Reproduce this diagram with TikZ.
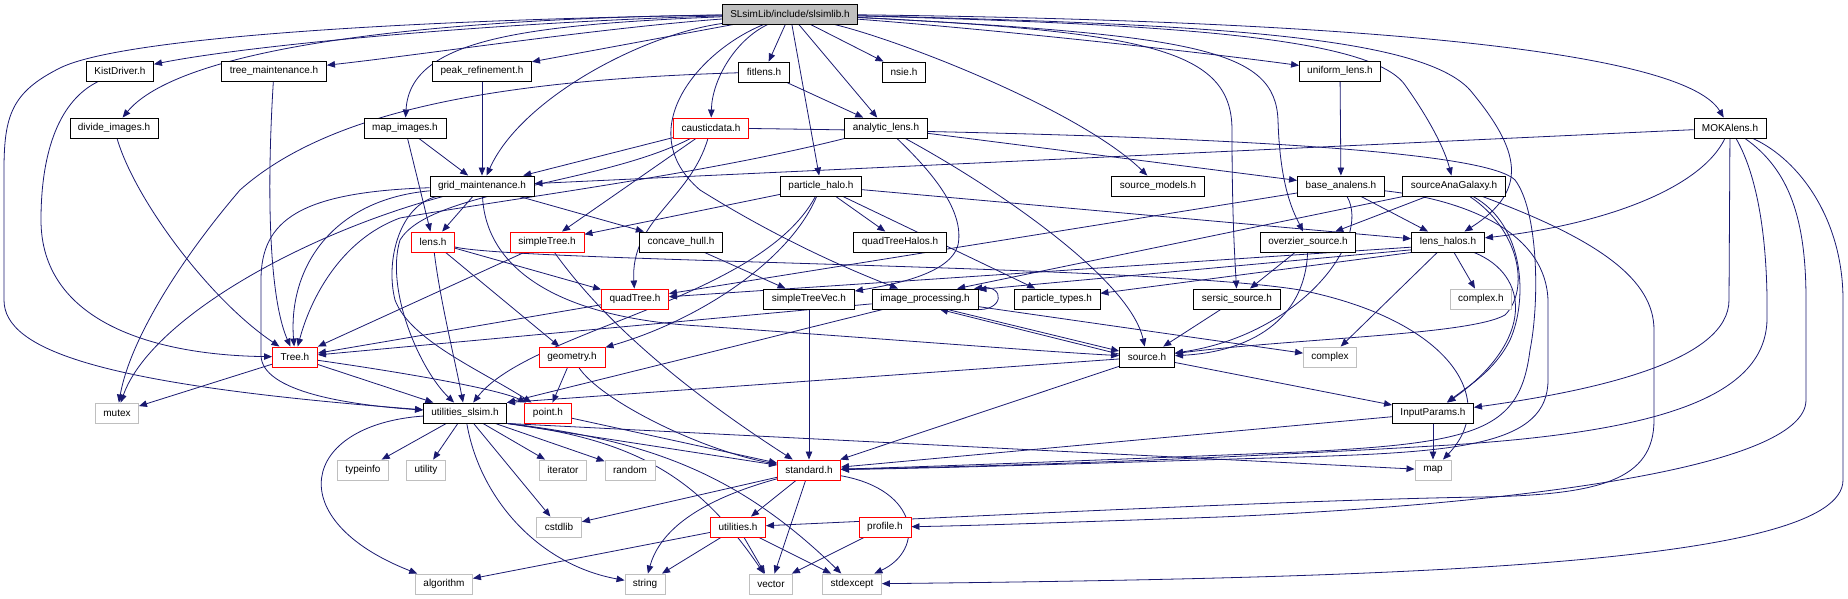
\documentclass[tikz,border=0pt]{standalone}
\usepackage{fontspec}
\setmainfont{Liberation Sans}
\usetikzlibrary{arrows.meta}
\definecolor{dblue}{HTML}{191970}
\definecolor{lgray}{HTML}{BFBFBF}
\pgfdeclarelayer{bg}
\pgfsetlayers{bg,main}
\tikzset{
 nd/.style={draw=black, line width=0.9pt, minimum height=20pt, inner sep=0pt, fill=white, font=\fontsize{10}{12}\selectfont},
 rd/.style={nd, draw=red},
 gy/.style={nd, draw=lgray},
 e/.style={draw=dblue, line width=0.8pt, -{Triangle[length=8pt,width=6.5pt]}},
}
\begin{document}
\begin{tikzpicture}[x=1pt,y=-1pt]
\useasboundingbox (0,0) rectangle (1848,599);
% nodes
\node[nd, minimum width=135pt, fill=lgray] (root) at (790,14) {SLsimLib/include/slsimlib.h};
\node[nd, minimum width=67pt] (kist) at (120,71) {KistDriver.h};
\node[nd, minimum width=105pt] (treem) at (274,71) {tree\_maintenance.h};
\node[nd, minimum width=99pt] (peak) at (482,71) {peak\_refinement.h};
\node[nd, minimum width=51pt] (fitlens) at (764,72) {fitlens.h};
\node[nd, minimum width=43pt] (nsie) at (904,72) {nsie.h};
\node[nd, minimum width=81pt] (uniform) at (1340,71) {uniform\_lens.h};
\node[nd, minimum width=88pt] (divide) at (114,128) {divide\_images.h};
\node[nd, minimum width=82pt] (mapimg) at (405,128) {map\_images.h};
\node[rd, minimum width=75pt] (caustic) at (711,128) {causticdata.h};
\node[nd, minimum width=83pt] (analytic) at (886,128) {analytic\_lens.h};
\node[nd, minimum width=72pt] (moka) at (1730,128) {MOKAlens.h};
\node[nd, minimum width=104pt] (grid) at (482,186) {grid\_maintenance.h};
\node[nd, minimum width=81pt] (phalo) at (821,186) {particle\_halo.h};
\node[nd, minimum width=93pt] (srcmod) at (1158,186) {source\_models.h};
\node[nd, minimum width=87pt] (baseana) at (1341,186) {base\_analens.h};
\node[nd, minimum width=103pt] (sag) at (1454,186) {sourceAnaGalaxy.h};
\node[rd, minimum width=43pt] (lens) at (433,242) {lens.h};
\node[rd, minimum width=74pt] (stree) at (547,242) {simpleTree.h};
\node[nd, minimum width=83pt] (concave) at (681,242) {concave\_hull.h};
\node[nd, minimum width=93pt] (qth) at (900,242) {quadTreeHalos.h};
\node[nd, minimum width=95pt] (overzier) at (1308,242) {overzier\_source.h};
\node[nd, minimum width=73pt] (lhalos) at (1448,242) {lens\_halos.h};
\node[rd, minimum width=67pt] (qtree) at (635,299) {quadTree.h};
\node[nd, minimum width=91pt] (stvec) at (809,299) {simpleTreeVec.h};
\node[nd, minimum width=106pt] (imgp) at (925,299) {image\_processing.h};
\node[nd, minimum width=86pt] (ptypes) at (1057,299) {particle\_types.h};
\node[nd, minimum width=87pt] (sersic) at (1237,299) {sersic\_source.h};
\node[gy, minimum width=61pt] (complexh) at (1481,299) {complex.h};
\node[rd, minimum width=45pt] (tree) at (295,357) {Tree.h};
\node[rd, minimum width=66pt] (geom) at (572,357) {geometry.h};
\node[nd, minimum width=55pt] (source) at (1147,357) {source.h};
\node[gy, minimum width=53pt] (complex) at (1330,357) {complex};
\node[gy, minimum width=43pt] (mutex) at (117,413) {mutex};
\node[nd, minimum width=83pt] (uslsim) at (465,413) {utilities\_slsim.h};
\node[rd, minimum width=47pt] (point) at (548,413) {point.h};
\node[nd, minimum width=81pt] (inparams) at (1433,413) {InputParams.h};
\node[gy, minimum width=51pt] (typeinfo) at (363,470) {typeinfo};
\node[gy, minimum width=39pt] (utility) at (426,470) {utility};
\node[gy, minimum width=47pt] (iterator) at (563,470) {iterator};
\node[gy, minimum width=50pt] (random) at (630,470) {random};
\node[rd, minimum width=63pt] (standard) at (809,470) {standard.h};
\node[gy, minimum width=36pt] (map) at (1433,470) {map};
\node[gy, minimum width=45pt] (cstdlib) at (559,527) {cstdlib};
\node[rd, minimum width=55pt] (utilities) at (738,527) {utilities.h};
\node[rd, minimum width=52pt] (profile) at (885,527) {profile.h};
\node[gy, minimum width=57pt] (algorithm) at (444,584) {algorithm};
\node[gy, minimum width=40pt] (string) at (645,584) {string};
\node[gy, minimum width=43pt] (vector) at (771,584) {vector};
\node[gy, minimum width=59pt] (stdexcept) at (852,584) {stdexcept};
\begin{pgfonlayer}{bg}
% root
\draw[e] (root) .. controls (500,22) and (250,45) .. (kist);
\draw[e] (root) .. controls (600,28) and (420,55) .. (treem);
\draw[e] (root) -- (peak);
\draw[e] (root) .. controls (350,20) and (170,60) .. (divide);
\draw[e] (root) .. controls (520,25) and (410,40) .. (mapimg);
\draw[e] (root) .. controls (640,35) and (520,100) .. (grid);
\draw[e] (root) .. controls (400,20) and (120,38) .. (60,68) .. controls (12,92) and (4,115) .. (4,170) -- (4,300) .. controls (4,350) and (100,385) .. (uslsim);
\draw[e] (root) -- (fitlens);
\draw[e] (root) -- (nsie);
\draw[e] (root) .. controls (735,40) and (712,80) .. (caustic);
\draw[e] (root) -- (analytic);
\draw[e] (root) -- (phalo);
\draw[e] (root) .. controls (900,40) and (1080,110) .. (srcmod);
\draw[e] (root) .. controls (1000,30) and (1200,52) .. (uniform);
\draw[e] (root) .. controls (1300,20) and (1680,45) .. (moka);
\draw[e] (root) .. controls (1150,24) and (1370,35) .. (1405,85) .. controls (1430,120) and (1445,150) .. (sag);
\draw[e] (root) .. controls (1200,24) and (1420,35) .. (1470,90) .. controls (1520,150) and (1530,190) .. (lhalos);
\draw[e] (root) .. controls (1200,35) and (1275,50) .. (1278,120) .. controls (1280,190) and (1295,215) .. (overzier);
\draw[e] (root) .. controls (1150,32) and (1232,50) .. (1232,130) .. controls (1232,220) and (1235,260) .. (sersic);
\draw[e] (root) .. controls (700,50) and (630,130) .. (700,190) .. controls (780,240) and (850,270) .. (imgp);
% first level
\draw[e] (kist) .. controls (60,100) and (41,150) .. (41,220) .. controls (41,320) and (150,355) .. (tree);
\draw[e] (treem) .. controls (266,200) and (270,300) .. (tree);
\draw[e] (divide) .. controls (135,200) and (210,300) .. (tree);
\draw[e] (peak) -- (grid);
\draw[e] (mapimg) -- (grid);
\draw[e] (mapimg) -- (lens);
\draw[e] (fitlens) -- (analytic);
\draw[e] (fitlens) .. controls (500,80) and (330,110) .. (240,190) .. controls (180,260) and (130,340) .. (mutex);
\draw[e] (caustic) -- (grid);
\draw[e] (caustic) -- (stree);
\draw[e] (caustic) .. controls (690,200) and (630,220) .. (qtree);
\draw[e] (caustic) .. controls (600,185) and (430,190) .. (400,240) .. controls (385,290) and (420,370) .. (uslsim);
\draw[e] (caustic) .. controls (1100,133) and (1480,145) .. (1515,180) .. controls (1538,210) and (1540,300) .. (1530,350) .. controls (1520,430) and (1480,443) .. (1300,452) .. controls (1100,460) and (950,466) .. (standard);
\draw[e] (analytic) -- (baseana);
\draw[e] (analytic) .. controls (1000,190) and (1130,280) .. (source);
\draw[e] (analytic) .. controls (700,175) and (500,200) .. (400,218) .. controls (340,240) and (310,300) .. (tree);
\draw[e] (analytic) .. controls (930,170) and (965,210) .. (958,245) .. controls (950,275) and (890,285) .. (stvec);
\draw[e] (uniform) -- (baseana);
\draw[e] (moka) -- (grid);
\draw[e] (moka) .. controls (1700,190) and (1600,225) .. (lhalos);
\draw[e] (moka) -- (1729,300) .. controls (1729,360) and (1600,390) .. (inparams);
\draw[e] (moka) .. controls (1760,180) and (1768,250) .. (1767,320) .. controls (1765,400) and (1650,432) .. (1450,445) .. controls (1200,460) and (1000,466) .. (standard);
\draw[e] (moka) .. controls (1790,170) and (1806,220) .. (1806,300) -- (1806,400) .. controls (1806,470) and (1500,505) .. (1220,517) .. controls (1050,523) and (960,526) .. (profile);
\draw[e] (moka) .. controls (1800,160) and (1843,220) .. (1843,300) -- (1843,480) .. controls (1843,565) and (1400,578) .. (stdexcept);
% particle halo
\draw[e] (phalo) -- (stree);
\draw[e] (phalo) -- (qth);
\draw[e] (phalo) -- (ptypes);
\draw[e] (phalo) -- (lhalos);
\draw[e] (phalo) .. controls (790,260) and (700,320) .. (geom);
\draw[e] (phalo) .. controls (760,300) and (530,330) .. (uslsim);
% grid
\draw[e] (grid) -- (lens);
\draw[e] (grid) -- (concave);
\draw[e] (grid) .. controls (330,200) and (288,270) .. (tree);
\draw[e] (grid) .. controls (300,192) and (261,220) .. (261,280) -- (261,355) .. controls (261,392) and (350,405) .. (uslsim);
\draw[e] (grid) .. controls (400,205) and (385,260) .. (395,300) .. controls (410,340) and (480,370) .. (point);
\draw[e] (grid) .. controls (300,235) and (150,320) .. (mutex);
\draw[e] (grid) .. controls (486,270) and (560,318) .. (700,326) .. controls (900,340) and (1050,352) .. (source);
% lens
\draw[e] (lens) -- (qtree);
\draw[e] (lens) -- (geom);
\draw[e] (lens) .. controls (440,300) and (455,360) .. (uslsim);
\draw[e] (lens) .. controls (520,262) and (1150,265) .. (1300,290) .. controls (1450,320) and (1500,400) .. (map);
% trees
\draw[e] (stree) -- (tree);
\draw[e] (stree) .. controls (610,330) and (700,400) .. (standard);
\draw[e] (concave) -- (stvec);
\draw[e] (qtree) -- (tree);
\draw[e] (stvec) -- (standard);
% image processing
\draw[e] (imgp.-12) .. controls (1005,312) and (1005,285) .. (imgp.12);
\draw[e] (imgp) -- (tree);
\draw[e] (imgp.-25) -- (source.168);
\draw[e] (source.174) -- (imgp.-35);
\draw[e] (imgp) -- (complex);
\draw[e] (imgp) -- (uslsim);
% source
\draw[e] (source) -- (standard);
\draw[e] (source) -- (inparams);
\draw[e] (source) -- (uslsim.north east);
\draw[e] (sersic) -- (source);
\draw[e] (overzier) -- (sersic);
\draw[e] (overzier) .. controls (1305,320) and (1250,352) .. (source);
% base analens, sourceAnaGalaxy
\draw[e] (baseana) -- (qtree);
\draw[e] (baseana) -- (lhalos);
\draw[e] (baseana) .. controls (1372,240) and (1300,335) .. (source);
\draw[e] (baseana) .. controls (1450,198) and (1545,225) .. (1548,300) -- (1548,380) .. controls (1548,445) and (1460,452) .. (1300,457) .. controls (1100,463) and (950,468) .. (standard);
\draw[e] (sag) -- (overzier);
\draw[e] (sag) -- (imgp.18);
\draw[e] (sag) .. controls (1520,230) and (1530,290) .. (1505,315) .. controls (1470,335) and (1300,338) .. (source);
\draw[e] (sag) .. controls (1525,225) and (1528,300) .. (1510,340) .. controls (1495,370) and (1470,385) .. (inparams);
\draw[e] (sag) .. controls (1600,240) and (1654,280) .. (1654,330) -- (1654,420) .. controls (1654,480) and (1600,495) .. (1480,497) .. controls (1300,500) and (1000,515) .. (utilities);
% lens halos
\draw[e] (lhalos) -- (complexh);
\draw[e] (lhalos) -- (complex);
\draw[e] (lhalos) .. controls (1530,275) and (1535,340) .. (inparams);
\draw[e] (lhalos.188) -- (qtree);
\draw[e] (lhalos.192) -- (imgp.10);
\draw[e] (lhalos.196) -- (ptypes);
% input params
\draw[e] (inparams) -- (map);
\draw[e] (inparams) -- (standard);
% utilities_slsim
\draw[e] (uslsim) -- (typeinfo);
\draw[e] (uslsim) -- (utility);
\draw[e] (uslsim) -- (iterator);
\draw[e] (uslsim) -- (random);
\draw[e] (uslsim) -- (cstdlib);
\draw[e] (uslsim) .. controls (300,425) and (280,520) .. (algorithm);
\draw[e] (uslsim) .. controls (480,500) and (540,565) .. (string);
\draw[e] (uslsim.south east) .. controls (640,440) and (700,480) .. (vector);
\draw[e] (uslsim.south east) .. controls (650,440) and (740,475) .. (stdexcept);
\draw[e] (uslsim.south east) -- (standard);
\draw[e] (uslsim.south east) -- (map);
% tree, point, geometry
\draw[e] (tree) -- (mutex);
\draw[e] (tree) -- (uslsim);
\draw[e] (tree) .. controls (420,375) and (500,390) .. (point);
\draw[e] (point) -- (standard);
\draw[e] (geom) -- (point);
\draw[e] (geom) .. controls (600,400) and (700,450) .. (standard);
% standard
\draw[e] (standard) -- (utilities);
\draw[e] (standard) -- (vector);
\draw[e] (standard) -- (cstdlib);
\draw[e] (standard) .. controls (700,500) and (660,530) .. (string);
\draw[e] (standard) .. controls (920,490) and (925,550) .. (stdexcept);
\draw[e] (utilities) -- (algorithm);
\draw[e] (utilities) -- (string);
\draw[e] (utilities) -- (vector);
\draw[e] (utilities) -- (stdexcept);
\draw[e] (profile) -- (vector);
\end{pgfonlayer}
\end{tikzpicture}
\end{document}
